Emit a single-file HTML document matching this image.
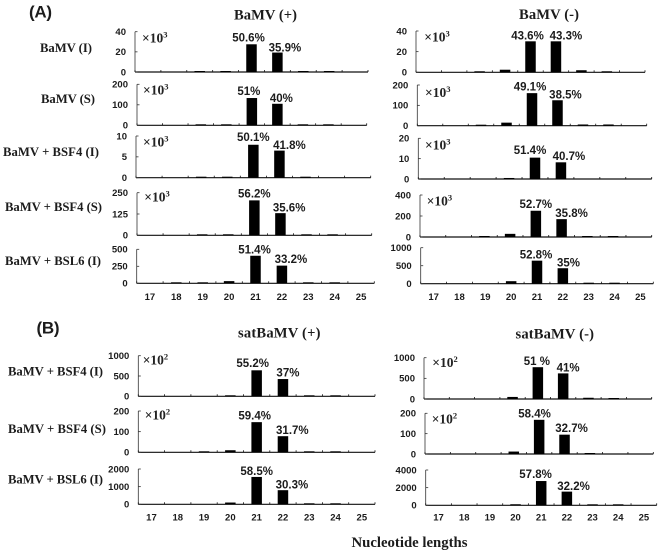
<!DOCTYPE html>
<html>
<head>
<meta charset="utf-8">
<title>BaMV small RNA length distribution</title>
<style>
html,body{margin:0;padding:0;background:#fff;width:661px;height:554px;overflow:hidden}
svg{display:block;filter:blur(0.3px)}
.serif{font-family:"Liberation Serif",serif;font-weight:bold;fill:#1c1c1c}
.sans{font-family:"Liberation Sans",sans-serif;font-weight:bold;fill:#1c1c1c}
.pct{font-size:11.5px;text-anchor:middle}
.ytick{font-size:9.5px;text-anchor:end}
.xtick{font-size:9.5px;text-anchor:middle}
.mult{font-family:"Liberation Serif",serif;font-size:13.5px;font-weight:bold;fill:#222}
</style>
</head>
<body>
<svg id="fig" xmlns="http://www.w3.org/2000/svg" width="661" height="554" viewBox="0 0 661 554">
  <text class="sans" x="29" y="17.5" font-size="17" textLength="23">(A)</text>
  <text class="sans" x="36.5" y="333.5" font-size="17" textLength="23">(B)</text>
  <text class="serif" x="234" y="19.5" font-size="14.6" textLength="63">BaMV (+)</text>
  <text class="serif" x="519" y="19" font-size="14.6" textLength="60">BaMV (-)</text>
  <text class="serif" x="238" y="337.5" font-size="14.6" textLength="82.5">satBaMV (+)</text>
  <text class="serif" x="515.5" y="338.5" font-size="14.6" textLength="78.5">satBaMV (-)</text>
  <text class="serif" x="351.5" y="547" font-size="14.75" textLength="116">Nucleotide lengths</text>
  <text class="serif" x="40" y="52" font-size="12.7" textLength="52">BaMV (I)</text>
  <text class="serif" x="41" y="103.2" font-size="12.7" textLength="54">BaMV (S)</text>
  <text class="serif" x="3" y="156" font-size="12.7" textLength="96">BaMV + BSF4 (I)</text>
  <text class="serif" x="5" y="211" font-size="12.7" textLength="97">BaMV + BSF4 (S)</text>
  <text class="serif" x="5" y="265" font-size="12.7" textLength="96">BaMV + BSL6 (I)</text>
  <text class="serif" x="8" y="375.5" font-size="12.7" textLength="95">BaMV + BSF4 (I)</text>
  <text class="serif" x="8" y="433" font-size="12.7" textLength="98">BaMV + BSF4 (S)</text>
  <text class="serif" x="8" y="483.3" font-size="12.7" textLength="95">BaMV + BSL6 (I)</text>
</svg>
<script>
// Nucleotide length categories
const categories = ['17','18','19','20','21','22','23','24','25'];

// Read counts per length, per panel
const aPlusBamvI   = [0,0,0.5,1,27.5,19.3,1,1,0];
const aPlusBamvS   = [0,0,1,4,133,105,3,3,0];
const aPlusBsf4I   = [0,0,0.05,0.2,7.9,6.5,0.2,0,0];
const aPlusBsf4S   = [0,0,1,6,205,130,5,3,0];
const aPlusBsl6I   = [0,3,5,32,405,260,12,6,0];
const aMinusBamvI  = [0,0,1,2.5,30,30,2,1,0];
const aMinusBamvS  = [0,0,2,15,160,125,6,6,0];
const aMinusBsf4I  = [0,0,0,0.5,10.5,8.2,0,0,0];
const aMinusBsf4S  = [0,0,3,30,250,170,5,3,0];
const aMinusBsl6I  = [0,0,0,70,640,430,10,20,0];
const bPlusBsf4I   = [0,0,0,25,640,425,10,10,0];
const bPlusBsf4S   = [0,0,1,10,146,78,1,3,0];
const bPlusBsl6I   = [0,0,0,100,1550,800,30,40,0];
const bMinusBsf4I  = [0,0,0,50,770,620,30,5,0];
const bMinusBsf4S  = [0,0,0,12,168,95,2,0,0];
const bMinusBsl6I  = [0,0,0,120,2750,1550,30,30,0];

// Y tick labels per panel
const ticksA1 = [0,20,40];
const ticksA2 = [0,100,200];
const ticksA3 = [0,5,10];
const ticksA4 = [0,125,250];
const ticksA5 = [0,250,500];
const ticksC1 = [0,20,40];
const ticksC2 = [0,100,200];
const ticksC3 = [0,10,20];
const ticksC4 = [0,200,400];
const ticksC5 = [0,500,1000];
const ticksB1 = [0,500,1000];
const ticksB2 = [0,100,200];
const ticksB3 = [0,1000,2000];
const ticksD1 = [0,500,1000];
const ticksD2 = [0,100,200];
const ticksD3 = [0,2000,4000];

// Printed percentages for the 21 nt and 22 nt bars
const pctA1 = ['50.6%','35.9%'];
const pctA2 = ['51%','40%'];
const pctA3 = ['50.1%','41.8%'];
const pctA4 = ['56.2%','35.6%'];
const pctA5 = ['51.4%','33.2%'];
const pctC1 = ['43.6%','43.3%'];
const pctC2 = ['49.1%','38.5%'];
const pctC3 = ['51.4%','40.7%'];
const pctC4 = ['52.7%','35.8%'];
const pctC5 = ['52.8%','35%'];
const pctB1 = ['55.2%','37%'];
const pctB2 = ['59.4%','31.7%'];
const pctB3 = ['58.5%','30.3%'];
const pctD1 = ['51 %','41%'];
const pctD2 = ['58.4%','32.7%'];
const pctD3 = ['57.8%','32.2%'];

// Panel frames (layout only)
const panels = [
 {n:'a-plus-bamv-i', v:aPlusBamvI, t:ticksA1, p:pctA1, f:[135,368,31.7,72],     d:[-3,7.5,7,5.5],   e:'3', m:[142,37.7]},
 {n:'a-plus-bamv-s', v:aPlusBamvS, t:ticksA2, p:pctA2, f:[137,366.7,84.3,125.3],d:[-3,4,7,6],       e:'3', m:[143,90]},
 {n:'a-plus-bsf4-i', v:aPlusBsf4I, t:ticksA3, p:pctA3, f:[136,370.7,136,177.7], d:[0,10,8,6],       e:'3', m:[143,141.7]},
 {n:'a-plus-bsf4-s', v:aPlusBsf4S, t:ticksA4, p:pctA4, f:[137,371.7,192.7,235.3],d:[0,8.7,7,6],     e:'3', m:[144.3,196.7]},
 {n:'a-plus-bsl6-i', v:aPlusBsl6I, t:ticksA5, p:pctA5, f:[136.7,374.3,249.3,283.3],d:[-1,9,6.7,7],  x:296.7},
 {n:'a-minus-bamv-i',v:aMinusBamvI,t:ticksC1, p:pctC1, f:[416,645,31,72.3],     d:[-3,10,6,6],      e:'3', m:[424.3,37]},
 {n:'a-minus-bamv-s',v:aMinusBamvS,t:ticksC2, p:pctC2, f:[417.3,646.7,85,125.7],d:[-2,8,6.7,6],     e:'3', m:[425,92.3]},
 {n:'a-minus-bsf4-i',v:aMinusBsf4I,t:ticksC3, p:pctC3, f:[418.3,651.7,138.3,179],d:[-5,8,7.7,6.6],  e:'3', m:[425,145]},
 {n:'a-minus-bsf4-s',v:aMinusBsf4S,t:ticksC4, p:pctC4, f:[420,651.7,195,237],   d:[0,10,7,6.6],     e:'3', m:[426.7,200.7]},
 {n:'a-minus-bsl6-i',v:aMinusBsl6I,t:ticksC5, p:pctC5, f:[420.7,653.3,247.7,283.7],d:[-1,5.7,6.3,6],x:296.7},
 {n:'b-plus-bsf4-i', v:bPlusBsf4I, t:ticksB1, p:pctB1, f:[138.3,375,355.7,396.3],d:[-4,5,7.6,6.7],  e:'2', m:[142.7,360]},
 {n:'b-plus-bsf4-s', v:bPlusBsf4S, t:ticksB2, p:pctB2, f:[138.3,375,411,452.3], d:[-2,9.4,7,6.4],   e:'2', m:[144.7,415]},
 {n:'b-plus-bsl6-i', v:bPlusBsl6I, t:ticksB3, p:pctB3, f:[138.3,375,469,504.3], d:[0,9,6,6],        x:517.3},
 {n:'b-minus-bsf4-i',v:bMinusBsf4I,t:ticksD1, p:pctD1, f:[424,651.7,357.7,399], d:[-1,5,6.3,6.3],   e:'2', m:[432.3,362.3]},
 {n:'b-minus-bsf4-s',v:bMinusBsf4S,t:ticksD2, p:pctD2, f:[425,653.3,413.3,454], d:[-4.6,7,6.4,7],   e:'2', m:[431.7,418.7]},
 {n:'b-minus-bsl6-i',v:bMinusBsl6I,t:ticksD3, p:pctD3, f:[425.7,656.7,470,505.3],d:[-5.6,6.7,7,6],  x:517.3}
];

const NS = 'http://www.w3.org/2000/svg';
const fig = document.getElementById('fig');
const BAR_W = 10.5;

function make(tag, attrs, parent) {
  const el = document.createElementNS(NS, tag);
  for (const k in attrs) el.setAttribute(k, attrs[k]);
  parent.appendChild(el);
  return el;
}

function drawPanel(p) {
  const [x0, x1, top, base] = p.f;
  const step = (x1 - x0) / categories.length;
  const yMax = p.t[p.t.length - 1];
  const xBand = i => x0 + step * (i + 0.5);
  const yVal = v => base - (v / yMax) * (base - top);

  const g = make('g', {}, fig);
  
  

  // axes
  const yAxis = make('line', {x1:x0, x2:x0, y1:top, y2:base, stroke:'#333', 'stroke-width':0.8}, g);
  
  

  const xAxis = make('line', {x1:x0, x2:x1, y1:base, y2:base, stroke:'#111', 'stroke-width':1.2}, g);
  
  

  // x ticks at category boundaries
  for (let i = 0; i <= categories.length; i++) {
    const xt = x0 + step * i;
    const tick = make('line', {x1:xt, x2:xt, y1:base, y2:base - 2, stroke:'#111', 'stroke-width':0.8}, g);
    
    
  }

  // y ticks and labels
  p.t.forEach(v => {
    const y = yVal(v);
    const tick = make('line', {x1:x0, x2:x0 + 2.5, y1:y, y2:y, stroke:'#333', 'stroke-width':0.8}, g);
    
    
    const lab = make('text', {x:x0 - 9, y:y + 3.3, class:'sans ytick'}, g);
    
    
    lab.textContent = v;
  });

  // bars
  p.v.forEach((v, i) => {
    if (v <= 0) return;
    const y = yVal(v);
    const h = Math.max(base - y, 1);
    const bar = make('rect', {x:xBand(i) - BAR_W / 2, y:base - h, width:BAR_W, height:h, fill:'#000'}, g);
    
    
  });

  // percent labels above the 21 nt and 22 nt bars
  const i21 = categories.indexOf('21');
  p.p.forEach((txt, j) => {
    const idx = i21 + j;
    const lab = make('text', {x:xBand(idx) + p.d[j], y:yVal(p.v[idx]) - p.d[j + 2] + 4.2, class:'sans pct'}, g);
    
    
    lab.textContent = txt;
  });

  // multiplier note
  if (p.e) {
    const m = make('text', {x:p.m[0], y:p.m[1] + 4.6, class:'mult'}, g);
    
    
    m.appendChild(document.createTextNode('\u00D710'));
    const sup = make('tspan', {dy:-5, 'font-size':8.5}, m);
    sup.textContent = p.e;
  }

  // x category labels on bottom panels
  if (p.x) {
    categories.forEach((c, i) => {
      const lab = make('text', {x:xBand(i), y:p.x + 3.3, class:'sans xtick'}, g);
      
      
      lab.textContent = c;
    });
  }
}

panels.forEach(drawPanel);
</script>
</body>
</html>
